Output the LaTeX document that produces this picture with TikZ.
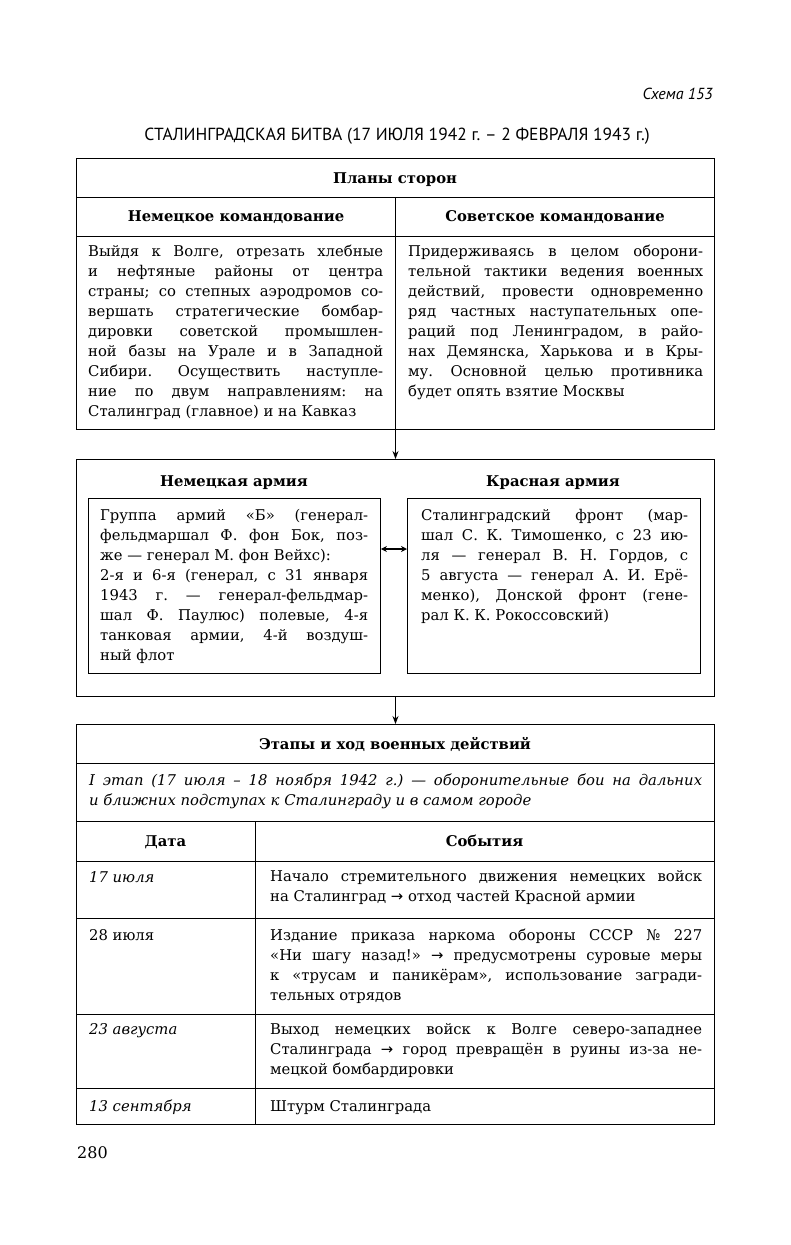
\documentclass[tikz,border=0pt]{standalone}
\usepackage{fontspec}
\setmainfont{DejaVu Serif}
\newfontfamily\ptsans{PT Sans}
\newfontfamily\arrowfont{DejaVu Sans}
\usetikzlibrary{arrows.meta}
\newcommand\bodyf{\fontsize{14.8}{20}\selectfont}
\newcommand\headf{\fontsize{14.8}{20}\selectfont\bfseries}
\newcommand\rarr{{\arrowfont →}}
\frenchspacing
\begin{document}
\frenchspacing
\begin{tikzpicture}[x=1pt,y=-1pt,
  frame/.style={draw, line width=1pt, inner sep=0pt, anchor=north west},
  rule/.style={line width=0.9pt},
  para/.style={anchor=north west, inner sep=0pt, text width=#1, align=justify, font=\bodyf\frenchspacing},
  head/.style={inner sep=0pt, font=\headf, anchor=base},
  datecell/.style={inner sep=0pt, font=\bodyf, anchor=base west},
  conn/.style={line width=1pt, -{Stealth[length=8pt,width=6pt]}},
  dconn/.style={line width=1.2pt, {Stealth[length=6pt,width=6pt]}-{Stealth[length=6pt,width=6pt]}},
]
\fill[white] (0,0) rectangle (791,1245);
\useasboundingbox (0,0) rectangle (791,1245);

% heading
\node[anchor=base east, inner sep=0pt, font=\ptsans\itshape\fontsize{16}{18}\selectfont] (schema) at (713,99) {Схема 153};
\node[anchor=base, inner sep=0pt, font=\ptsans\fontsize{17.5}{20}\selectfont] (title) at (397,140) {СТАЛИНГРАДСКАЯ БИТВА (17 ИЮЛЯ 1942 г. – 2 ФЕВРАЛЯ 1943 г.)};

% ---------- plans ----------
\node[frame, minimum width=638pt, minimum height=271pt] (plans) at (76,157.5) {};
\draw[rule] (76,197) -- (714,197);
\draw[rule] (76,236) -- (714,236);
\draw[rule] (395,197) -- (395,428.5);
\node[head] (plh) at (395,183.5) {Планы сторон};
\node[head] (gch) at (236,221.5) {Немецкое командование};
\node[head] (sch) at (555,221.5) {Советское командование};

\node[para=295pt] (gplan) at (88,242.5) {\strut Выйдя к Волге, отрезать хлебные\linebreak
и нефтяные районы от центра\linebreak
страны; со степных аэродромов со-\linebreak
вершать стратегические бомбар-\linebreak
дировки советской промышлен-\linebreak
ной базы на Урале и в Западной\linebreak
Сибири. Осуществить наступле-\linebreak
ние по двум направлениям: на\linebreak
Сталинград (главное) и на Кавказ};

\node[para=295pt] (splan) at (408,242.5) {\strut Придерживаясь в целом оборони-\linebreak
тельной тактики ведения военных\linebreak
действий, провести одновременно\linebreak
ряд частных наступательных опе-\linebreak
раций под Ленинградом, в райо-\linebreak
нах Демянска, Харькова и в Кры-\linebreak
му. Основной целью противника\linebreak
будет опять взятие Москвы};

% ---------- armies ----------
\node[frame, minimum width=638pt, minimum height=237pt] (armies) at (76,459) {};
\draw[conn] (plans.south) -- (armies.north);
\node[head] (gah) at (234,486) {Немецкая армия};
\node[head] (rah) at (553,486) {Красная армия};
\node[frame, line width=0.9pt, minimum width=292pt, minimum height=175pt] (gbox) at (88,497.5) {};
\node[frame, line width=0.9pt, minimum width=293pt, minimum height=175pt] (rbox) at (407,497.5) {};
\coordinate (ay) at (0,549);
\draw[dconn] (gbox.east |- ay) -- (rbox.west |- ay);

\node[para=268pt] (gtxt) at (100,506) {\strut Группа армий «Б» (генерал-\linebreak
фельдмаршал Ф. фон Бок, поз-\linebreak
же — генерал М. фон Вейхс):\\
2-я и 6-я (генерал, с 31 января\linebreak
1943 г. — генерал-фельдмар-\linebreak
шал Ф. Паулюс) полевые, 4-я\linebreak
танковая армии, 4-й воздуш-\linebreak
ный флот};

\node[para=267pt] (rtxt) at (421,506) {\strut Сталинградский фронт (мар-\linebreak
шал С. К. Тимошенко, с 23 ию-\linebreak
ля — генерал В. Н. Гордов, с\linebreak
5 августа — генерал А. И. Ерё-\linebreak
менко), Донской фронт (гене-\linebreak
рал К. К. Рокоссовский)};

% ---------- stages ----------
\node[frame, minimum width=638pt, minimum height=400pt] (stages) at (76,724) {};
\draw[conn] (armies.south) -- (stages.north);
\draw[rule] (76,763.5) -- (714,763.5);
\draw[rule] (76,821.5) -- (714,821.5);
\draw[rule] (76,861) -- (714,861);
\draw[rule] (76,918) -- (714,918);
\draw[rule] (76,1014) -- (714,1014);
\draw[rule] (76,1088) -- (714,1088);
\draw[rule] (255,821.5) -- (255,1124);

\node[head] (sth) at (395,749) {Этапы и ход военных действий};
\node[para=613pt, font=\bodyf\itshape\frenchspacing] (stage) at (89,771) {\strut I этап (17 июля – 18 ноября 1942 г.) — оборонительные бои на дальних\linebreak
и ближних подступах к Сталинграду и в самом городе};

\node[head] (dh) at (165.5,846.5) {Дата};
\node[head] (eh) at (484.5,846.5) {События};

\node[datecell, font=\bodyf\itshape] (d1) at (89,882) {17 июля};
\node[para=432pt] (e1) at (270,867.5) {\strut Начало стремительного движения немецких войск\linebreak
на Сталинград \rarr{} отход частей Красной армии};

\node[datecell] (d2) at (89,940) {28 июля};
\node[para=432pt] (e2) at (270,926) {\strut Издание приказа наркома обороны СССР № 227\linebreak
«Ни шагу назад!» \rarr{} предусмотрены суровые меры\linebreak
к «трусам и паникёрам», использование загради-\linebreak
тельных отрядов};

\node[datecell, font=\bodyf\itshape] (d3) at (89,1034) {23 августа};
\node[para=432pt] (e3) at (270,1020) {\strut Выход немецких войск к Волге северо-западнее\linebreak
Сталинграда \rarr{} город превращён в руины из-за не-\linebreak
мецкой бомбардировки};

\node[datecell, font=\bodyf\itshape] (d4) at (89,1111.5) {13 сентября};
\node[datecell] (e4) at (270,1111.5) {Штурм Сталинграда};

\node[anchor=base west, inner sep=0pt, font=\fontsize{16}{18}\selectfont] (page) at (77,1158.5) {280};
\end{tikzpicture}
\end{document}
